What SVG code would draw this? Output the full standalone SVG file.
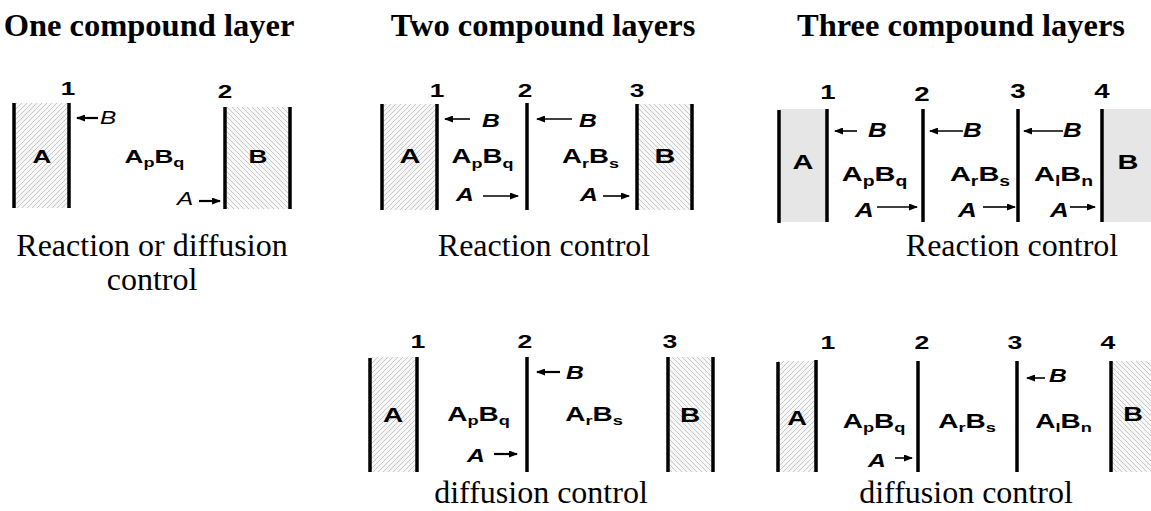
<svg xmlns="http://www.w3.org/2000/svg" width="1151" height="511" viewBox="0 0 1151 511">
<defs>
<style>
.t{font-family:"Liberation Serif","Times New Roman",serif;font-weight:bold;font-size:32.5px;text-anchor:middle;fill:#000}
.c{font-family:"Liberation Serif","Times New Roman",serif;font-size:32px;text-anchor:middle;fill:#000}
.s{font-family:"Liberation Sans",Arial,sans-serif;fill:#000}
.m{text-anchor:middle}
.b{font-weight:bold}
.i{font-style:italic}
.ln{stroke:#000;stroke-width:3.5;fill:none}
.ar{stroke:#000;stroke-width:1.6;fill:none;marker-end:url(#ah)}
.ar2{stroke:#000;stroke-width:2.2;fill:none;marker-end:url(#ah)}
.ha{fill:url(#hatchA)}
.hb{fill:url(#hatchB)}
.gr{fill:#e6e6e6}
</style>
<pattern id="hatchA" patternUnits="userSpaceOnUse" width="5" height="5">
<rect width="5" height="5" fill="#f7f7f7"/>
<path d="M-1,1 l2,-2 M0,5 l5,-5 M4,6 l2,-2" stroke="#b2b2b2" stroke-width="0.7"/>
</pattern>
<pattern id="hatchB" patternUnits="userSpaceOnUse" width="5" height="5">
<rect width="5" height="5" fill="#f7f7f7"/>
<path d="M-1,4 l2,2 M0,0 l5,5 M4,-1 l2,2" stroke="#b2b2b2" stroke-width="0.7"/>
</pattern>
<marker id="ah" markerUnits="userSpaceOnUse" markerWidth="9" markerHeight="7" refX="8" refY="3.5" orient="auto">
<path d="M0,0 L9,3.5 L0,7 z" fill="#000"/>
</marker>
</defs>
<rect width="1151" height="511" fill="#fff"/>

<g id="titles">
<text class="t" x="149" y="36">One compound layer</text>
<text class="t" x="543" y="36">Two compound layers</text>
<text class="t" x="961" y="36">Three compound layers</text>
</g>

<g id="captions">
<text class="c" x="152" y="256">Reaction or diffusion</text>
<text class="c" x="152" y="290">control</text>
<text class="c" x="544" y="256">Reaction control</text>
<text class="c" x="1012" y="256">Reaction control</text>
<text class="c" x="541" y="503">diffusion control</text>
<text class="c" x="966" y="503">diffusion control</text>
</g>

<!-- Panel 1: one compound layer -->
<g id="panel1">
<rect class="ha" x="14" y="103" width="55" height="105"/>
<rect class="hb" x="225" y="107" width="65" height="102"/>
<line class="ln" x1="14" y1="103" x2="14" y2="208"/>
<line class="ln" x1="69" y1="103" x2="69" y2="208"/>
<line class="ln" x1="225" y1="107" x2="225" y2="209"/>
<line class="ln" x1="290" y1="107" x2="290" y2="209"/>
<g class="s b" font-size="18">
<text class="m" transform="translate(68 95) scale(1.45 1)">1</text>
<text class="m" transform="translate(225 98) scale(1.45 1)">2</text>
<text class="m" transform="translate(42 163) scale(1.45 1)">A</text>
<text class="m" transform="translate(258 163) scale(1.45 1)">B</text>
<text class="m" transform="translate(154.5 163) scale(1.45 1)">A<tspan font-size="12.5" dy="4">p</tspan><tspan dy="-4">B</tspan><tspan font-size="12.5" dy="4">q</tspan></text>
</g>
<g class="s i" font-size="18">
<text transform="translate(100 124) scale(1.35 1)">B</text>
<text transform="translate(177 205) scale(1.35 1)">A</text>
</g>
</g>

<!-- Panel 2 top: two compound layers, reaction control -->
<g id="panel2r">
<rect class="ha" x="382" y="104" width="55" height="106"/>
<rect class="hb" x="637" y="104" width="55" height="106"/>
<line class="ln" x1="382" y1="104" x2="382" y2="210"/>
<line class="ln" x1="437" y1="104" x2="437" y2="210"/>
<line class="ln" x1="527" y1="103" x2="527" y2="210"/>
<line class="ln" x1="637" y1="104" x2="637" y2="210"/>
<line class="ln" x1="692" y1="104" x2="692" y2="210"/>
<g class="s b" font-size="19">
<text class="m" transform="translate(437 97) scale(1.38 1)">1</text>
<text class="m" transform="translate(525 97) scale(1.38 1)">2</text>
<text class="m" transform="translate(637 97) scale(1.38 1)">3</text>
</g>
<g class="s b" font-size="20">
<text class="m" transform="translate(410 163) scale(1.45 1)">A</text>
<text class="m" transform="translate(665 163) scale(1.45 1)">B</text>
<text class="m" transform="translate(482.5 163) scale(1.38 1)">A<tspan font-size="13" dy="5">p</tspan><tspan dy="-5">B</tspan><tspan font-size="13" dy="5">q</tspan></text>
<text class="m" transform="translate(590.5 163) scale(1.38 1)">A<tspan font-size="13" dy="5">r</tspan><tspan dy="-5">B</tspan><tspan font-size="13" dy="5">s</tspan></text>
</g>
<g class="s b i" font-size="19">
<text transform="translate(482 127) scale(1.3 1)">B</text>
<text transform="translate(579 127) scale(1.3 1)">B</text>
<text transform="translate(456 201) scale(1.3 1)">A</text>
<text transform="translate(580 201) scale(1.3 1)">A</text>
</g>
</g>

<!-- Panel 3 top: three compound layers, reaction control -->
<g id="panel3r">
<rect class="gr" x="779" y="109" width="48" height="113"/>
<rect class="gr" x="1102" y="109" width="49" height="113"/>
<line class="ln" x1="779" y1="110" x2="779" y2="223"/>
<line class="ln" x1="827" y1="109" x2="827" y2="222"/>
<line class="ln" x1="923" y1="109" x2="923" y2="222"/>
<line class="ln" x1="1018" y1="109" x2="1018" y2="222"/>
<line class="ln" x1="1102" y1="109" x2="1102" y2="222"/>
<g class="s b" font-size="20">
<text class="m" transform="translate(828 99) scale(1.38 1)">1</text>
<text class="m" transform="translate(922 101) scale(1.38 1)">2</text>
<text class="m" transform="translate(1018 98) scale(1.38 1)">3</text>
<text class="m" transform="translate(1102 98) scale(1.38 1)">4</text>
</g>
<g class="s b" font-size="21">
<text class="m" transform="translate(803 169) scale(1.38 1)">A</text>
<text class="m" transform="translate(1128 169) scale(1.38 1)">B</text>
<text class="m" transform="translate(874.5 181) scale(1.38 1)">A<tspan font-size="14" dy="5">p</tspan><tspan dy="-5">B</tspan><tspan font-size="14" dy="5">q</tspan></text>
<text class="m" transform="translate(980 181) scale(1.38 1)">A<tspan font-size="14" dy="5">r</tspan><tspan dy="-5">B</tspan><tspan font-size="14" dy="5">s</tspan></text>
<text class="m" transform="translate(1063.5 181) scale(1.38 1)">A<tspan font-size="14" dy="5">l</tspan><tspan dy="-5">B</tspan><tspan font-size="14" dy="5">n</tspan></text>
</g>
<g class="s b i" font-size="20">
<text transform="translate(868 137) scale(1.3 1)">B</text>
<text transform="translate(963 137) scale(1.3 1)">B</text>
<text transform="translate(1063 137) scale(1.3 1)">B</text>
<text transform="translate(855 217) scale(1.3 1)">A</text>
<text transform="translate(958 217) scale(1.3 1)">A</text>
<text transform="translate(1050 217) scale(1.3 1)">A</text>
</g>
</g>

<!-- Panel 2 bottom: two compound layers, diffusion control -->
<g id="panel2d">
<rect class="ha" x="370" y="357" width="47" height="115"/>
<rect class="hb" x="668" y="357" width="45" height="115"/>
<line class="ln" x1="370" y1="358" x2="370" y2="472"/>
<line class="ln" x1="417" y1="357" x2="417" y2="472"/>
<line class="ln" x1="527" y1="357" x2="527" y2="472"/>
<line class="ln" x1="668" y1="357" x2="668" y2="472"/>
<line class="ln" x1="713" y1="357" x2="713" y2="472"/>
<g class="s b" font-size="19">
<text class="m" transform="translate(418 348) scale(1.4 1)">1</text>
<text class="m" transform="translate(525 348) scale(1.4 1)">2</text>
<text class="m" transform="translate(670 348) scale(1.4 1)">3</text>
</g>
<g class="s b" font-size="20">
<text class="m" transform="translate(393 422) scale(1.4 1)">A</text>
<text class="m" transform="translate(690 422) scale(1.4 1)">B</text>
<text class="m" transform="translate(478.5 421) scale(1.4 1)">A<tspan font-size="13" dy="4">p</tspan><tspan dy="-4">B</tspan><tspan font-size="13" dy="4">q</tspan></text>
<text class="m" transform="translate(594 421) scale(1.4 1)">A<tspan font-size="13" dy="4">r</tspan><tspan dy="-4">B</tspan><tspan font-size="13" dy="4">s</tspan></text>
</g>
<g class="s b i" font-size="19">
<text transform="translate(467 462) scale(1.3 1)">A</text>
<text transform="translate(566 379) scale(1.3 1)">B</text>
</g>
</g>

<!-- Panel 3 bottom: three compound layers, diffusion control -->
<g id="panel3d">
<rect class="ha" x="778" y="361" width="38" height="111"/>
<rect class="hb" x="1111" y="361" width="40" height="111"/>
<line class="ln" x1="778" y1="362" x2="778" y2="472"/>
<line class="ln" x1="816" y1="360" x2="816" y2="472"/>
<line class="ln" x1="918" y1="361" x2="918" y2="472"/>
<line class="ln" x1="1017" y1="361" x2="1017" y2="472"/>
<line class="ln" x1="1111" y1="361" x2="1111" y2="472"/>
<g class="s b" font-size="19">
<text class="m" transform="translate(828 349) scale(1.4 1)">1</text>
<text class="m" transform="translate(922 349) scale(1.4 1)">2</text>
<text class="m" transform="translate(1015 349) scale(1.4 1)">3</text>
<text class="m" transform="translate(1108 349) scale(1.4 1)">4</text>
</g>
<g class="s b" font-size="21">
<text class="m" transform="translate(797 425) scale(1.3 1)">A</text>
<text class="m" transform="translate(1133 421) scale(1.3 1)">B</text>
</g>
<g class="s b" font-size="20">
<text class="m" transform="translate(874 428) scale(1.4 1)">A<tspan font-size="13" dy="4">p</tspan><tspan dy="-4">B</tspan><tspan font-size="13" dy="4">q</tspan></text>
<text class="m" transform="translate(967 428) scale(1.4 1)">A<tspan font-size="13" dy="4">r</tspan><tspan dy="-4">B</tspan><tspan font-size="13" dy="4">s</tspan></text>
<text class="m" transform="translate(1063.5 428) scale(1.4 1)">A<tspan font-size="13" dy="4">l</tspan><tspan dy="-4">B</tspan><tspan font-size="13" dy="4">n</tspan></text>
</g>
<g class="s b i" font-size="19">
<text transform="translate(868 467) scale(1.3 1)">A</text>
<text transform="translate(1049 382) scale(1.3 1)">B</text>
</g>
</g>

<g id="connectors">
<line class="ar2" x1="98" y1="118" x2="77" y2="118"/>
<line class="ar2" x1="199" y1="201" x2="220" y2="201"/>
<line class="ar" x1="470" y1="119" x2="445" y2="119"/>
<line class="ar" x1="572" y1="119" x2="537" y2="119"/>
<line class="ar" x1="483" y1="196" x2="518" y2="196"/>
<line class="ar" x1="603" y1="196" x2="629" y2="196"/>
<line class="ar" x1="857" y1="131" x2="835" y2="131"/>
<line class="ar" x1="963" y1="131" x2="930" y2="131"/>
<line class="ar" x1="1063" y1="131" x2="1024" y2="131"/>
<line class="ar" x1="877" y1="207" x2="917" y2="207"/>
<line class="ar" x1="983" y1="207" x2="1015" y2="207"/>
<line class="ar" x1="1070" y1="207" x2="1095" y2="207"/>
<line class="ar2" x1="494" y1="454" x2="517" y2="454"/>
<line class="ar2" x1="560" y1="372" x2="537" y2="372"/>
<line class="ar" x1="895" y1="458" x2="912" y2="458"/>
<line class="ar" x1="1045" y1="378" x2="1027" y2="378"/>
</g>
</svg>
